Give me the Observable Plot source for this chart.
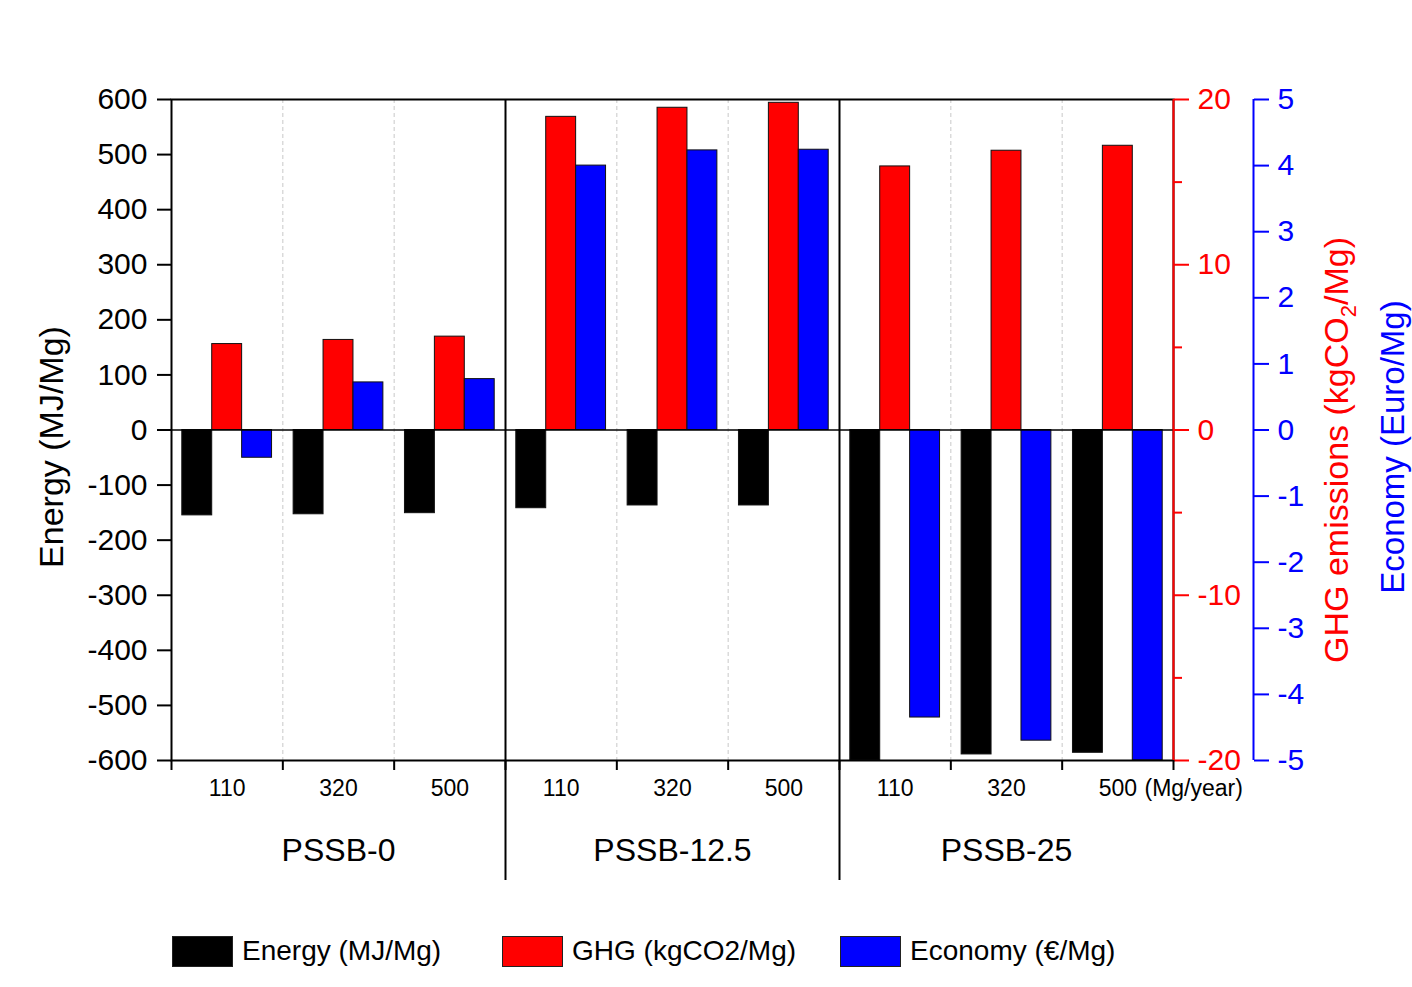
<!DOCTYPE html>
<html><head><meta charset="utf-8">
<script src="https://cdn.jsdelivr.net/npm/d3@7"></script>
<script src="https://cdn.jsdelivr.net/npm/@observablehq/plot@0.6"></script>
<style>
body{margin:0;background:#fff;font-family:"Liberation Sans",Arial,sans-serif;}
#wrap{position:relative;width:1412px;height:987px;overflow:hidden;}
#chart{position:absolute;left:0;top:0;}
.leg{position:absolute;top:935px;height:32px;display:flex;align-items:center;font-size:28px;color:#000;white-space:nowrap;}
.sw{width:61px;height:31px;border:1px solid #222;box-sizing:border-box;margin-right:9px;}
</style></head><body>
<div id="wrap"><div id="chart"></div><div id="legend"></div></div>
<script>
// ---- data ----
const groups = ["PSSB-0", "PSSB-12.5", "PSSB-25"];
const capacities = ["110", "320", "500"];
const seriesNames = ["Energy (MJ/Mg)", "GHG (kgCO2/Mg)", "Economy (€/Mg)"];
const seriesColors = ["#000000", "#ff0000", "#0000ff"];
// order: PSSB-0 (110,320,500), PSSB-12.5 (110,320,500), PSSB-25 (110,320,500)
const energy  = [-155, -153, -151, -142, -137, -137, -600, -589, -586];
const ghg     = [5.2, 5.45, 5.65, 18.95, 19.5, 19.8, 15.95, 16.9, 17.2];
const economy = [-0.42, 0.72, 0.77, 4.0, 4.23, 4.24, -4.35, -4.7, -5.0];
const energyTicks = [-600, -500, -400, -300, -200, -100, 0, 100, 200, 300, 400, 500, 600];
const ghgTicks = [-20, -10, 0, 10, 20];
const ghgMinorTicks = [-15, -5, 5, 15];
const economyTicks = [-5, -4, -3, -2, -1, 0, 1, 2, 3, 4, 5];
const leftTitle = "Energy (MJ/Mg)";
const ghgTitle = "GHG emissions (kgCO2/Mg)";
const ecoTitle = "Economy (Euro/Mg)";
const unitLabel = "(Mg/year)";

// right axes are mapped onto the energy scale: 20 kgCO2 -> 600, 5 € -> 600
const GHG_K = 30, ECO_K = 120;
const PAD = 0.097, W = 0.2687;

const rows = [];
const nSub = groups.length * capacities.length;
for (let i = 0; i < nSub; i++) {
  const vals = [energy[i], ghg[i] * GHG_K, economy[i] * ECO_K];
  vals.forEach((v, k) => rows.push({i, k, v, color: seriesColors[k]}));
}
const boundaries = d3.range(0, nSub + 1);
const groupBounds = d3.range(1, groups.length).map(g => g * capacities.length);
const subBounds = boundaries.filter(b => b > 0 && b < nSub && b % capacities.length !== 0);
const subCenters = d3.range(nSub).map(i => i + 0.5);
const groupCenters = groups.map((g, j) => j * capacities.length + capacities.length / 2);

const fmt = v => String(Math.round(v)); // plain hyphen-minus, as in the reference
const font = "Liberation Sans, Arial, sans-serif";
const chart = Plot.plot({
  width: 1412, height: 900,
  marginLeft: 171, marginRight: 239, marginTop: 99, marginBottom: 140,
  style: {fontFamily: font, background: "transparent", color: "#000"},
  x: {type: "linear", domain: [0, nSub]},
  y: {domain: [-600, 600]},
  color: {type: "identity"},
  marks: [
    Plot.ruleX(subBounds, {stroke: "#c8c8c8", strokeDasharray: "4,3", strokeWidth: 1}),
    Plot.rectY(rows, {
      x1: d => d.i + PAD + d.k * W, x2: d => d.i + PAD + (d.k + 1) * W,
      y1: 0, y2: "v", fill: "color", stroke: "#111", strokeWidth: 1, clip: true
    }),
    Plot.ruleY([0], {stroke: "#000", strokeWidth: 1.5}),
    Plot.ruleX(groupBounds, {stroke: "#000", strokeWidth: 2}),
    Plot.frame({stroke: "#000", strokeWidth: 2}),
    Plot.ruleX([nSub], {stroke: "#ff0000", strokeWidth: 2}),
    Plot.ruleX([nSub], {stroke: "#0000ff", strokeWidth: 2, dx: 80}),
    Plot.axisY(energyTicks, {anchor: "left", tickSize: 14, tickPadding: 10, fontSize: 30, strokeWidth: 2, tickFormat: fmt, label: null}),
    Plot.axisY(ghgTicks.map(v => v * GHG_K), {anchor: "right", tickSize: 15, tickPadding: 9, fontSize: 30, strokeWidth: 2, color: "#ff0000", tickFormat: d => fmt(d / GHG_K), label: null}),
    Plot.axisY(ghgMinorTicks.map(v => v * GHG_K), {anchor: "right", tickSize: 8, fontSize: 30, strokeWidth: 2, color: "#ff0000", tickFormat: () => "", label: null}),
    Plot.axisY(economyTicks.map(v => v * ECO_K), {anchor: "right", dx: 80, tickSize: 15, tickPadding: 9, fontSize: 30, strokeWidth: 2, color: "#0000ff", tickFormat: d => fmt(d / ECO_K), label: null}),
    Plot.axisX(boundaries, {tickSize: 10, strokeWidth: 2, tickFormat: () => "", label: null}),
    Plot.axisX(groupBounds, {tickSize: 120, strokeWidth: 2, tickFormat: () => "", label: null}),
    Plot.axisX(subCenters, {tickSize: 0, tickPadding: 19, fontSize: 23, tickFormat: d => capacities[Math.floor(d) % capacities.length], label: null}),
    Plot.axisX(groupCenters, {tickSize: 0, tickPadding: 78, fontSize: 32, tickFormat: d => groups[Math.floor(d / capacities.length)], label: null}),
    Plot.text([unitLabel], {frameAnchor: "bottom-right", textAnchor: "start", lineAnchor: "top", dx: -29, dy: 19, fontSize: 23, fill: "#000"}),
    Plot.text([leftTitle], {frameAnchor: "left", textAnchor: "middle", lineAnchor: "middle", rotate: -90, dx: -119, dy: 17, fontSize: 34, fill: "#000"}),
    Plot.text([ghgTitle], {frameAnchor: "right", textAnchor: "middle", lineAnchor: "middle", rotate: -90, dx: 164, dy: 20, fontSize: 34, fill: "#ff0000"}),
    Plot.text([ecoTitle], {frameAnchor: "right", textAnchor: "middle", lineAnchor: "middle", rotate: -90, dx: 220, dy: 17, fontSize: 33, fill: "#0000ff"})
  ]
});
// subscript 2 in CO2 of the axis title
chart.querySelectorAll("text").forEach(t => {
  if (t.textContent === ghgTitle) {
    t.innerHTML = 'GHG emissions (kgCO<tspan dy="8" font-size="22">2</tspan><tspan dy="-8">/Mg)</tspan>';
  }
});
document.getElementById("chart").appendChild(chart);

// legend
const legendLefts = [172, 502, 840];
const legend = document.getElementById("legend");
seriesNames.forEach((name, k) => {
  const item = document.createElement("div");
  item.className = "leg";
  item.style.left = legendLefts[k] + "px";
  const sw = document.createElement("div");
  sw.className = "sw";
  sw.style.background = seriesColors[k];
  const label = document.createElement("span");
  label.textContent = name;
  item.appendChild(sw); item.appendChild(label);
  legend.appendChild(item);
});
</script>
</body></html>
